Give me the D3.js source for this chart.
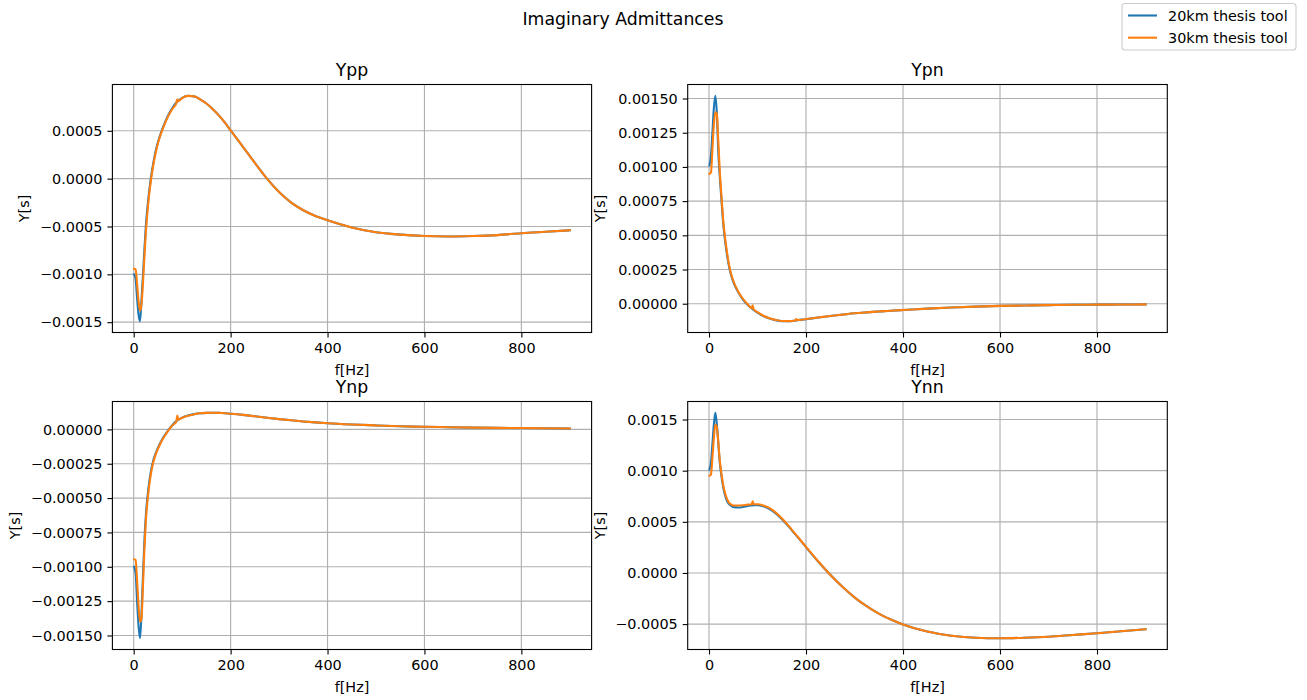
<!DOCTYPE html>
<html><head><meta charset="utf-8">
<script src="https://cdn.jsdelivr.net/npm/d3@7"></script>
<style>body{margin:0;background:#fff} svg{display:block} text{font-family:"DejaVu Sans",sans-serif;fill:#000}</style>
</head><body><svg id="c" width="1307" height="700"></svg>
<script>
// ---------------- DATA ----------------
const freqs = [1,4,7,10,13,16,19,22,25,30,35,40,45,50,60,70,80,88,90,92,100,112,125,137,150,165,178,180,182,200,225,250,275,300,325,350,375,400,450,500,550,600,650,700,750,800,850,900];
const xTicks = [0,200,400,600,800];
const seriesNames = ["20km thesis tool","30km thesis tool"];
const panelTitles = ["Ypp","Ypn","Ynp","Ynn"];

const ypp20 = [-0.00100,-0.00105,-0.00125,-0.00142,-0.00149,
 -0.00128,-0.00102,-0.00075,-0.00050,-0.00022,
 -0.00001,0.00015,0.00028,0.00038,0.00053,
 0.00065,0.00074,0.000795,0.000805,0.000814,
 0.000845,0.000866,0.00086,0.000828,0.000785,0.000718,
 0.000648,0.000636,0.000624,0.000505,0.000335,
 0.000165,0.0,-0.00014,-0.00025,-0.00033,-0.00039,-0.000435,
 -0.00051,-0.00056,-0.000585,-0.0006,-0.000605,
 -0.0006,-0.00059,-0.00057,-0.000555,-0.00054];
const ypp30 = [-0.000943,-0.00095,-0.00110,-0.00128,-0.00138,
 -0.00132,-0.00110,-0.00083,-0.00057,-0.00026,
 -0.00004,0.00013,0.00026,0.00037,0.00052,
 0.00064,0.00073,0.00079,0.00083,0.000809,
 0.000842,0.000865,0.00086,0.000828,0.000785,0.000718,
 0.000648,0.000636,0.000624,0.000505,0.000335,
 0.000165,0.0,-0.00014,-0.00025,-0.00033,-0.00039,-0.000435,
 -0.00051,-0.00056,-0.000585,-0.0006,-0.000605,
 -0.0006,-0.00059,-0.00057,-0.000555,-0.00054];

const ypn20 = [0.00101,0.00108,0.00125,0.00143,0.00152,
 0.00140,0.00112,0.00094,0.00079,0.00056,
 0.00041,0.000295,0.000215,0.00016,0.000085,
 0.00003,-0.00001,-0.000035,-0.00004,-0.000045,
 -0.000065,-0.00009,-0.000108,-0.00012,-0.000127,-0.000128,
 -0.000123,-0.000122,-0.000121,-0.000113,-0.000101,
 -0.00009,-0.00008,-0.00007,-0.000063,-0.000057,-0.000051,-0.000046,
 -0.000036,-0.000028,-0.000021,-0.000016,-0.000013,
 -0.00001,-0.000008,-0.000007,-0.000006,-0.000005];
const ypn30 = [0.00095,0.00096,0.00113,0.00131,0.00140,
 0.00139,0.00120,0.00098,0.00082,0.00058,
 0.00043,0.00031,0.000225,0.000168,0.00009,
 0.000035,-0.000005,-0.000032,-0.000012,-0.000042,
 -0.000062,-0.000088,-0.000106,-0.000118,-0.000126,-0.000127,
 -0.000122,-0.000112,-0.00012,-0.000112,-0.000101,
 -0.00009,-0.00008,-0.00007,-0.000063,-0.000057,-0.000051,-0.000046,
 -0.000036,-0.000028,-0.000021,-0.000016,-0.000013,
 -0.00001,-0.000008,-0.000007,-0.000006,-0.000005];

const ynp20 = [-0.00100,-0.00105,-0.00125,-0.00143,-0.00152,
 -0.00135,-0.00108,-0.00082,-0.00063,-0.00044,
 -0.000315,-0.000232,-0.000178,-0.000135,-0.000065,
 -0.000012,0.000032,0.00006,0.000066,0.000071,
 0.000086,0.000101,0.000111,0.000117,0.00012,0.000121,
 0.00012,0.000119,0.000119,0.000114,0.000106,
 0.000096,0.000085,0.000075,0.000066,0.000058,0.000051,0.000045,
 0.000036,0.000029,0.000023,0.000019,0.000016,
 0.000013,0.000011,0.00001,0.000008,0.000007];
const ynp30 = [-0.000945,-0.00095,-0.00110,-0.00128,-0.00140,
 -0.00138,-0.00115,-0.00088,-0.00067,-0.00047,
 -0.000335,-0.000245,-0.000187,-0.000142,-0.00007,
 -0.000016,0.000029,0.000057,0.0001,0.00007,
 0.000085,0.0001,0.00011,0.000117,0.00012,0.000121,
 0.00012,0.000119,0.000119,0.000114,0.000106,
 0.000096,0.000085,0.000075,0.000066,0.000058,0.000051,0.000045,
 0.000036,0.000029,0.000023,0.000019,0.000016,
 0.000013,0.000011,0.00001,0.000008,0.000007];

const ynn20 = [0.00101,0.00108,0.00126,0.00145,0.001566,
 0.00146,0.00128,0.00109,0.00097,0.00082,
 0.00073,0.00068,0.00066,0.000645,0.00064,
 0.000645,0.000655,0.00066,0.00066,0.000662,
 0.000663,0.000651,0.000625,0.000585,0.000528,0.00045,
 0.000377,0.000366,0.000355,0.000252,0.000112,
 -0.000018,-0.000135,-0.000238,-0.000325,-0.000398,-0.000455,-0.000503,
 -0.000573,-0.000613,-0.000633,-0.000638,-0.000633,
 -0.000623,-0.000606,-0.000589,-0.00057,-0.00055];
const ynn30 = [0.00095,0.00096,0.00113,0.00132,0.00145,
 0.00143,0.00129,0.00111,0.00099,0.00084,
 0.00075,0.000695,0.00067,0.00066,0.00066,
 0.000662,0.000668,0.00067,0.0007,0.000672,
 0.000672,0.00066,0.000633,0.000592,0.000534,0.000455,
 0.000381,0.00037,0.000359,0.000255,0.000115,
 -0.000018,-0.000135,-0.000238,-0.000325,-0.000398,-0.000455,-0.000503,
 -0.000573,-0.000613,-0.000633,-0.000638,-0.000633,
 -0.000623,-0.000606,-0.000589,-0.00057,-0.00055];

const yppTicks = [-0.0015,-0.0010,-0.0005,0,0.0005];
const ypnTicks = [0,0.00025,0.0005,0.00075,0.001,0.00125,0.0015];
const ynpTicks = [-0.0015,-0.00125,-0.001,-0.00075,-0.0005,-0.00025,0];
const ynnTicks = [-0.0005,0,0.0005,0.001,0.0015];

// ---------------- LAYOUT ----------------
const colors = ["#1f77b4","#ff7f0e"];
const FS = 14.4, TFS = 17.3;
const panels = [
  {title:panelTitles[0], s:[ypp20,ypp30], ticks:yppTicks, fmt:".4f", L:112.4, T:84.5, R:591.6, B:332.5, ylx:29},
  {title:panelTitles[1], s:[ypn20,ypn30], ticks:ypnTicks, fmt:".5f", L:687.7, T:84.5, R:1167.3, B:332.5, ylx:605},
  {title:panelTitles[2], s:[ynp20,ynp30], ticks:ynpTicks, fmt:".5f", L:112.4, T:401.5, R:591.6, B:649.5, ylx:20},
  {title:panelTitles[3], s:[ynn20,ynn30], ticks:ynnTicks, fmt:".4f", L:687.7, T:401.5, R:1167.3, B:649.5, ylx:605}
];

const svg = d3.select("#c");
svg.append("rect").attr("width",1307).attr("height",700).attr("fill","#fff");

const xe = d3.extent(freqs), xpad = (xe[1]-xe[0])*0.05;

panels.forEach(p => {
  const all = p.s[0].concat(p.s[1]);
  const ye = d3.extent(all), ypad = (ye[1]-ye[0])*0.05;
  const x = d3.scaleLinear().domain([xe[0]-xpad, xe[1]+xpad]).range([p.L, p.R]);
  const y = d3.scaleLinear().domain([ye[0]-ypad, ye[1]+ypad]).range([p.B, p.T]);
  const g = svg.append("g");
  g.selectAll(".gx").data(xTicks).enter().append("line")
    .attr("x1",d=>x(d)).attr("x2",d=>x(d)).attr("y1",p.T).attr("y2",p.B)
    .attr("stroke","#b0b0b0").attr("stroke-width",1.15);
  g.selectAll(".gy").data(p.ticks).enter().append("line")
    .attr("y1",d=>y(d)).attr("y2",d=>y(d)).attr("x1",p.L).attr("x2",p.R)
    .attr("stroke","#b0b0b0").attr("stroke-width",1.15);
  const line = d3.line().x((d,i)=>x(freqs[i])).y(d=>y(d)).curve(d3.curveMonotoneX);
  p.s.forEach((arr,k)=>{
    g.append("path").attr("d",line(arr)).attr("fill","none")
     .attr("stroke",colors[k]).attr("stroke-width",2.1).attr("stroke-linejoin","round").attr("stroke-linecap","square");
  });
  const xa = g.append("g").attr("transform",`translate(0,${p.B})`)
    .call(d3.axisBottom(x).tickValues(xTicks).tickSize(5).tickPadding(5).tickFormat(d3.format("d")));
  const fmt = d3.format(p.fmt);
  const ya = g.append("g").attr("transform",`translate(${p.L},0)`)
    .call(d3.axisLeft(y).tickValues(p.ticks).tickSize(5).tickPadding(5).tickFormat(d=>fmt(d).replace("-","\u2212")));
  [xa,ya].forEach(a=>{
    a.select(".domain").remove();
    a.selectAll("line").attr("stroke","#000").attr("stroke-width",1.1);
    a.selectAll("text").attr("font-family","DejaVu Sans").attr("font-size",FS).attr("fill","#000");
  });
  g.append("rect").attr("x",p.L).attr("y",p.T).attr("width",p.R-p.L).attr("height",p.B-p.T)
    .attr("fill","none").attr("stroke","#000").attr("stroke-width",1.1);
  g.append("text").attr("x",(p.L+p.R)/2).attr("y",p.T-8.5).attr("text-anchor","middle")
    .attr("font-size",TFS).text(p.title);
  g.append("text").attr("x",(p.L+p.R)/2).attr("y",p.B+42.5).attr("text-anchor","middle")
    .attr("font-size",FS).text("f[Hz]");
  g.append("text").attr("transform",`translate(${p.ylx},${(p.T+p.B)/2}) rotate(-90)`)
    .attr("text-anchor","middle").attr("font-size",FS).text("Y[s]");
});

svg.append("text").attr("x",623).attr("y",25).attr("text-anchor","middle").attr("font-size",TFS).text("Imaginary Admittances");

const lg = svg.append("g");
lg.append("rect").attr("x",1122).attr("y",3.5).attr("width",174).attr("height",46.5).attr("rx",3)
  .attr("fill","#fff").attr("fill-opacity",0.8).attr("stroke","#cccccc").attr("stroke-width",1.1);
seriesNames.forEach((n,i)=>{
  const yy = 15.5 + i*22.2;
  lg.append("line").attr("x1",1128).attr("x2",1157).attr("y1",yy).attr("y2",yy)
    .attr("stroke",colors[i]).attr("stroke-width",2.1);
  lg.append("text").attr("x",1168).attr("y",yy+5.2).attr("font-size",FS).text(n);
});
</script></body></html>
